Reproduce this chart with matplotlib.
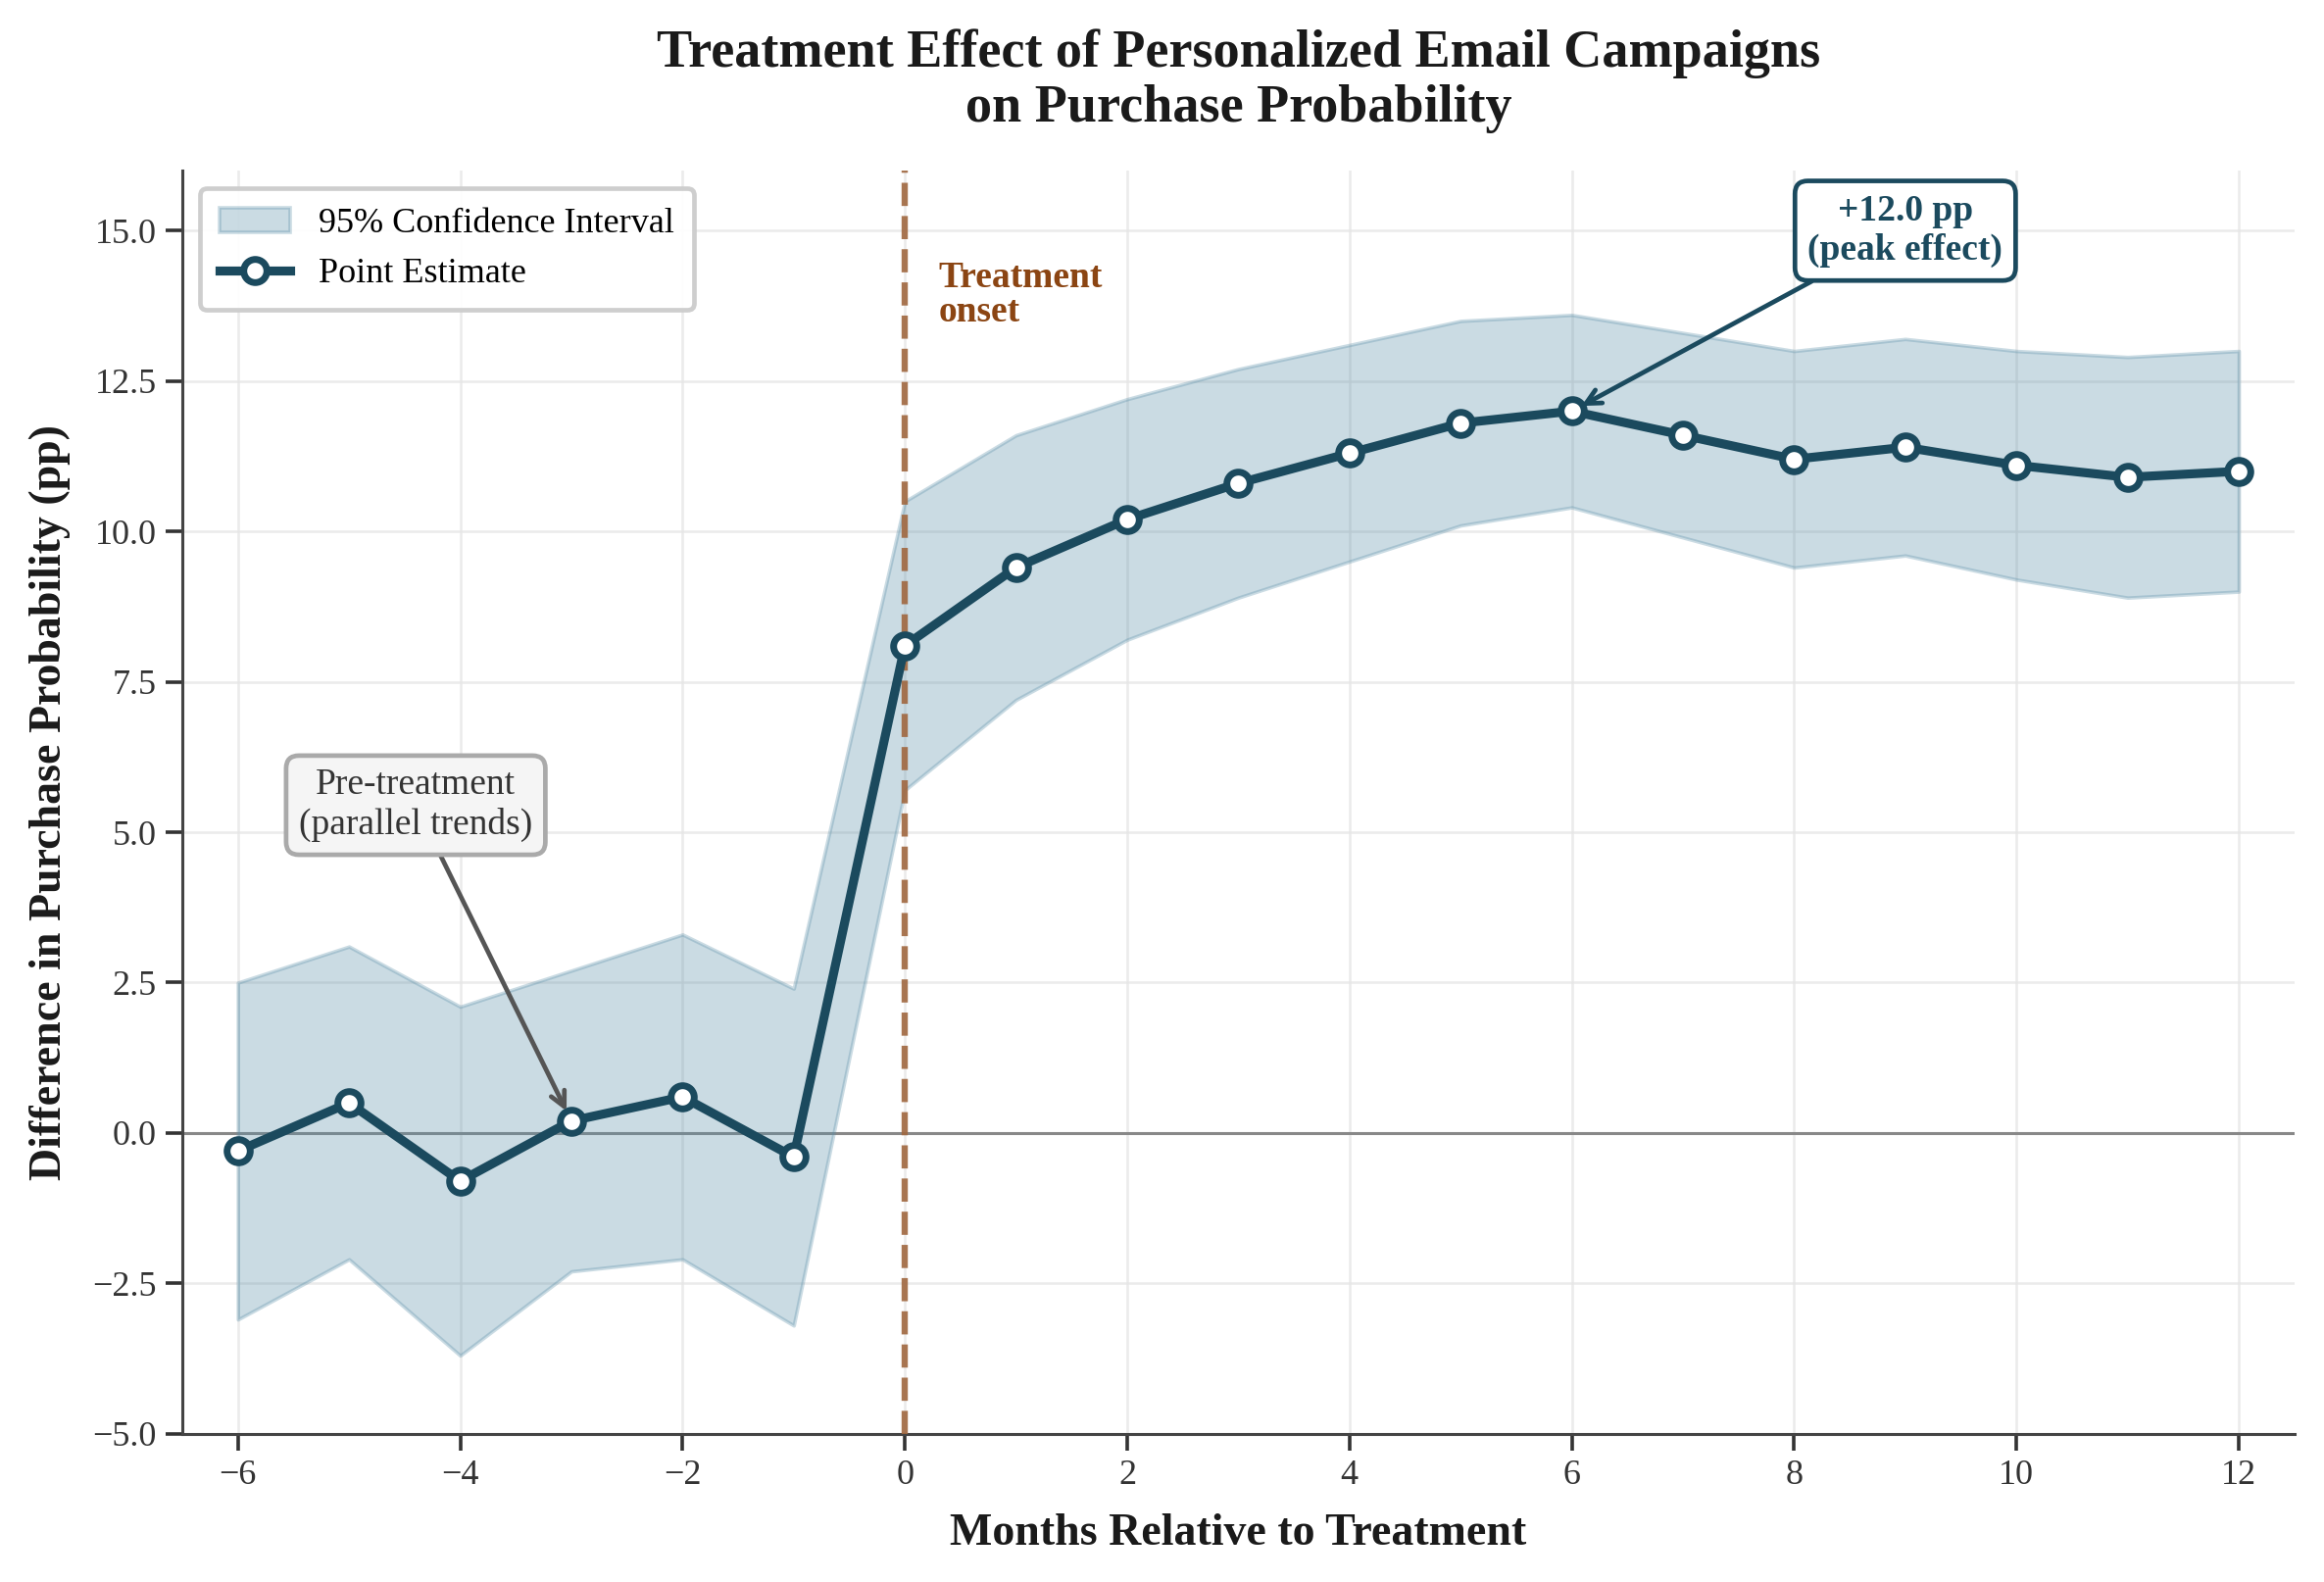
import matplotlib
matplotlib.use("Agg")
import matplotlib.pyplot as plt
import numpy as np

plt.rcParams['font.family'] = ['Liberation Serif', 'DejaVu Serif']
plt.rcParams['mathtext.fontset'] = 'stix'

months = [-6, -5, -4, -3, -2, -1, 0, 1, 2, 3, 4, 5, 6, 7, 8, 9, 10, 11, 12]
estimate = [-0.3, 0.5, -0.8, 0.2, 0.6, -0.4, 8.1, 9.4, 10.2, 10.8, 11.3, 11.8,
            12.0, 11.6, 11.2, 11.4, 11.1, 10.9, 11.0]
ci_upper = [2.5, 3.1, 2.1, 2.7, 3.3, 2.4, 10.5, 11.6, 12.2, 12.7, 13.1, 13.5,
            13.6, 13.3, 13.0, 13.2, 13.0, 12.9, 13.0]
ci_lower = [-3.1, -2.1, -3.7, -2.3, -2.1, -3.2, 5.7, 7.2, 8.2, 8.9, 9.5, 10.1,
            10.4, 9.9, 9.4, 9.6, 9.2, 8.9, 9.0]

line_color = '#1b4a5e'
fill_color = '#5b8fa8'
onset_color = '#a0673f'

fig = plt.figure(figsize=(2371 / 200, 1614 / 200), dpi=200)
ax = fig.add_axes([123 / 1568, 1 - 967 / 1067, (1548 - 123) / 1568, (967 - 115) / 1067])

ax.fill_between(months, ci_lower, ci_upper, facecolor=fill_color, alpha=0.32,
                edgecolor=fill_color, linewidth=1.3, label='95% Confidence Interval', zorder=2)
ax.plot(months, estimate, color=line_color, linewidth=3.3, marker='o', markersize=8.5,
        markerfacecolor='white', markeredgecolor=line_color, markeredgewidth=2.5,
        label='Point Estimate', zorder=4)

ax.axhline(0, color='#888888', linewidth=1.1, zorder=1)
ax.axvline(0, color=onset_color, linestyle='--', linewidth=2.3, alpha=0.9, zorder=3)

ax.text(0.3, 14.5, 'Treatment\nonset', color='#8b4513', fontsize=13.5, fontweight='bold',
        ha='left', va='top', linespacing=1.0)

ax.annotate('Pre-treatment\n(parallel trends)', xy=(-3, 0.2), xytext=(-4.4, 5.45),
            fontsize=13.5, color='#333333', ha='center', va='center',
            bbox=dict(boxstyle='round,pad=0.35', facecolor='#f5f5f5', edgecolor='#aaaaaa', linewidth=1.7),
            arrowprops=dict(arrowstyle='->', color='#555555', linewidth=1.7, shrinkA=0, shrinkB=4),
            zorder=5)

ax.annotate('+12.0 pp\n(peak effect)', xy=(6, 12.0), xytext=(9.0, 15.0),
            fontsize=13.5, color=line_color, fontweight='bold', ha='center', va='center',
            bbox=dict(boxstyle='round,pad=0.35', facecolor='white', edgecolor=line_color, linewidth=1.7),
            arrowprops=dict(arrowstyle='->', color=line_color, linewidth=1.7, shrinkA=0, shrinkB=4),
            zorder=5)

ax.set_xlim(-6.5, 12.5)
ax.set_ylim(-5, 16)
ax.set_xticks([-6, -4, -2, 0, 2, 4, 6, 8, 10, 12])
ax.set_yticks([-5.0, -2.5, 0.0, 2.5, 5.0, 7.5, 10.0, 12.5, 15.0])
ax.set_yticklabels(['\u22125.0', '\u22122.5', '0.0', '2.5', '5.0', '7.5', '10.0', '12.5', '15.0'])
ax.set_xticklabels(['\u22126', '\u22124', '\u22122', '0', '2', '4', '6', '8', '10', '12'])
ax.tick_params(labelsize=13, colors='#333333', length=6, width=1.3, direction='out')

ax.grid(True, color='#e6e6e6', linewidth=0.9, alpha=0.8, zorder=0)
ax.set_axisbelow(True)
for s in ['top', 'right']:
    ax.spines[s].set_visible(False)
for s in ['left', 'bottom']:
    ax.spines[s].set_color('#444444')
    ax.spines[s].set_linewidth(1.1)

ax.set_xlabel('Months Relative to Treatment', fontsize=16.5, fontweight='bold', color='#1a1a1a', labelpad=8)
ax.set_ylabel('Difference in Purchase Probability (pp)', fontsize=16.5, fontweight='bold', color='#1a1a1a', labelpad=8)
ax.set_title('Treatment Effect of Personalized Email Campaigns\non Purchase Probability',
             fontsize=19.5, fontweight='bold', color='#1a1a1a', pad=18, linespacing=1.15)

leg = ax.legend(loc='upper left', fontsize=13, frameon=True, fancybox=True, framealpha=0.95,
                edgecolor='#cccccc', borderpad=0.55)
leg.get_frame().set_linewidth(1.7)

fig.savefig('out.png', dpi=200)
